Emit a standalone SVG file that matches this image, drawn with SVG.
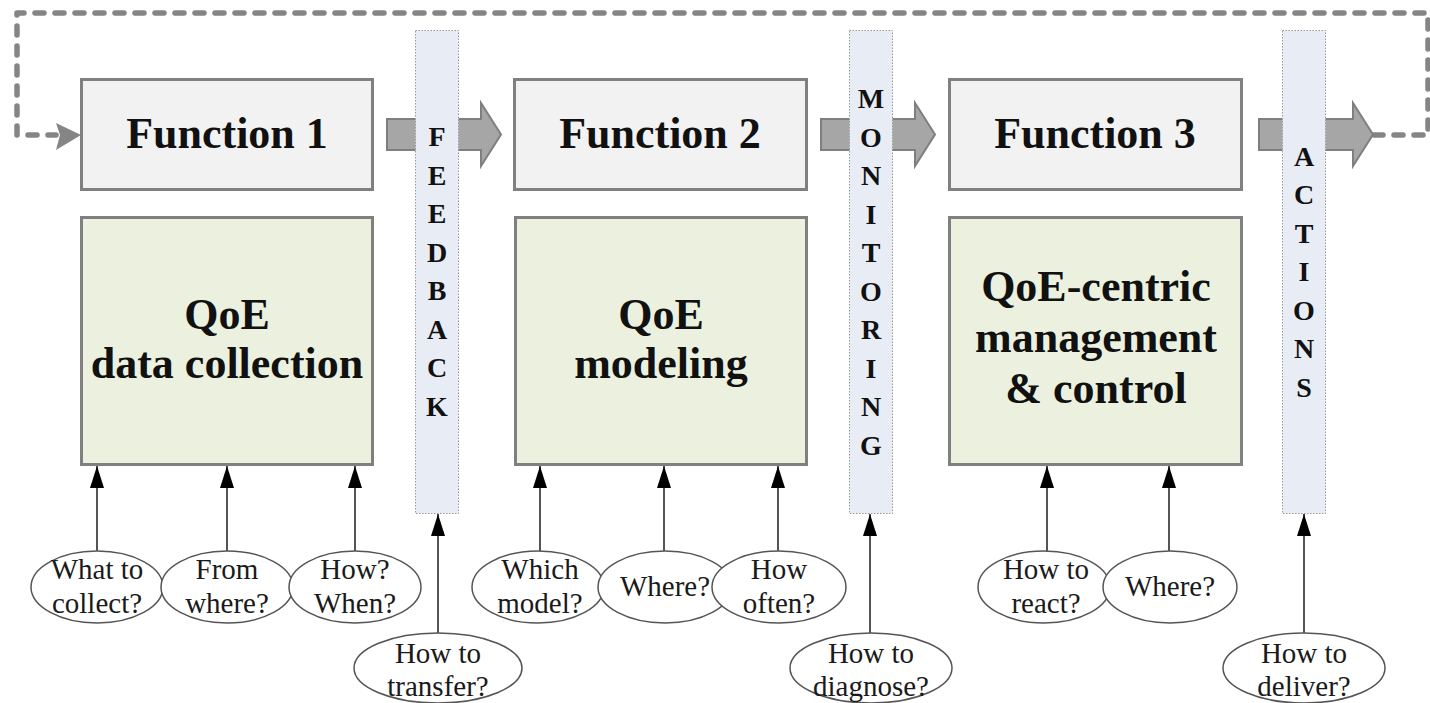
<svg xmlns="http://www.w3.org/2000/svg" width="1430" height="703" viewBox="0 0 1430 703">
  <style>
    .func { fill: #f2f2f2; stroke: #808080; stroke-width: 3; }
    .task { fill: #ebf1de; stroke: #808080; stroke-width: 3; }
    .bar { fill: #e8edf5; stroke: #9a9a9a; stroke-width: 1; stroke-dasharray: 1.5 1.5; }
    .flow { fill: #a6a6a6; stroke: #7f7f7f; stroke-width: 2; stroke-linejoin: miter; }
    .loop { fill: none; stroke: #858585; stroke-width: 5.5; stroke-dasharray: 9 11; stroke-linecap: round; stroke-linejoin: round; }
    .q { fill: #ffffff; stroke: #555555; stroke-width: 1.5; }
    .link { stroke: #555555; stroke-width: 2; fill: none; marker-end: url(#tri); }
    .title { font-family: "Liberation Serif", "Times New Roman", serif; font-weight: bold; font-size: 44px; fill: #111111; text-anchor: middle; }
    .vert { font-family: "Liberation Serif", "Times New Roman", serif; font-weight: bold; font-size: 28px; fill: #111111; text-anchor: middle; }
    .qt { font-family: "Liberation Serif", "Times New Roman", serif; font-size: 29px; fill: #1a1a1a; text-anchor: middle; }
  </style>
  <defs>
    <marker id="tri" viewBox="0 0 22 14" refX="22" refY="7" markerWidth="22" markerHeight="14" markerUnits="userSpaceOnUse" orient="auto">
      <path d="M0,0 L22,7 L0,14 Z" fill="#000000"/>
    </marker>
  </defs>

  <!-- connectors: dashed loop, flow arrows and question links -->
  <g id="connectors">
    <path class="loop" d="M1374,135 H1428 V13 H17 V135 H56"/>
    <path d="M56,123 L81,135 L56,150 L60,135 Z" fill="#858585"/>

    <path class="flow" d="M387,119 H481 V103 L501,134.5 L481,166 V150 H387 Z"/>
    <path class="flow" d="M821,119 H915 V103 L935,134.5 L915,166 V150 H821 Z"/>
    <path class="flow" d="M1259,119 H1353 V103 L1373,134.5 L1353,166 V150 H1259 Z"/>

    <line class="link" x1="97" y1="551" x2="97" y2="466"/>
    <line class="link" x1="227" y1="551" x2="227" y2="466"/>
    <line class="link" x1="355" y1="551" x2="355" y2="466"/>
    <line class="link" x1="540" y1="551" x2="540" y2="466"/>
    <line class="link" x1="664" y1="551" x2="664" y2="466"/>
    <line class="link" x1="778" y1="551" x2="778" y2="466"/>
    <line class="link" x1="1047" y1="551" x2="1047" y2="466"/>
    <line class="link" x1="1169" y1="551" x2="1169" y2="466"/>
    <line class="link" x1="438" y1="634" x2="438" y2="514"/>
    <line class="link" x1="870" y1="634" x2="870" y2="514"/>
    <line class="link" x1="1304" y1="634" x2="1304" y2="514"/>
  </g>

  <!-- function headers -->
  <g id="function1">
    <rect class="func" x="81.5" y="79.5" width="291" height="110"/>
    <text class="title" x="227" y="148">Function 1</text>
  </g>
  <g id="function2">
    <rect class="func" x="514.5" y="79.5" width="292" height="110"/>
    <text class="title" x="660" y="148">Function 2</text>
  </g>
  <g id="function3">
    <rect class="func" x="949.5" y="79.5" width="292" height="110"/>
    <text class="title" x="1095" y="148">Function 3</text>
  </g>

  <!-- function bodies -->
  <g id="collection">
    <rect class="task" x="81.5" y="217.5" width="291" height="247"/>
    <text class="title" x="227" y="329">QoE</text>
    <text class="title" x="227" y="378">data collection</text>
  </g>
  <g id="modeling">
    <rect class="task" x="515.5" y="217.5" width="291" height="247"/>
    <text class="title" x="661" y="329">QoE</text>
    <text class="title" x="661" y="378">modeling</text>
  </g>
  <g id="management">
    <rect class="task" x="949.5" y="217.5" width="292" height="247"/>
    <text class="title" x="1096" y="301">QoE-centric</text>
    <text class="title" x="1096" y="352">management</text>
    <text class="title" x="1096" y="403">&amp; control</text>
  </g>

  <!-- vertical transition bars -->
  <g id="feedback">
    <rect class="bar" x="415.5" y="30.5" width="43" height="483"/>
    <text class="vert" x="437" y="146">F</text>
    <text class="vert" x="437" y="185">E</text>
    <text class="vert" x="437" y="223">E</text>
    <text class="vert" x="437" y="262">D</text>
    <text class="vert" x="437" y="300">B</text>
    <text class="vert" x="437" y="339">A</text>
    <text class="vert" x="437" y="377">C</text>
    <text class="vert" x="437" y="416">K</text>
  </g>
  <g id="monitoring">
    <rect class="bar" x="849.5" y="30.5" width="43" height="483"/>
    <text class="vert" x="871" y="108">M</text>
    <text class="vert" x="871" y="147">O</text>
    <text class="vert" x="871" y="185">N</text>
    <text class="vert" x="871" y="224">I</text>
    <text class="vert" x="871" y="262">T</text>
    <text class="vert" x="871" y="301">O</text>
    <text class="vert" x="871" y="339">R</text>
    <text class="vert" x="871" y="378">I</text>
    <text class="vert" x="871" y="416">N</text>
    <text class="vert" x="871" y="455">G</text>
  </g>
  <g id="actions">
    <rect class="bar" x="1282.5" y="30.5" width="43" height="483"/>
    <text class="vert" x="1304" y="166">A</text>
    <text class="vert" x="1304" y="204">C</text>
    <text class="vert" x="1304" y="243">T</text>
    <text class="vert" x="1304" y="281">I</text>
    <text class="vert" x="1304" y="320">O</text>
    <text class="vert" x="1304" y="358">N</text>
    <text class="vert" x="1304" y="397">S</text>
  </g>

  <!-- questions -->
  <g id="q-what">
    <ellipse class="q" cx="97" cy="587" rx="66" ry="36"/>
    <text class="qt" x="97" y="579">What to</text>
    <text class="qt" x="97" y="613">collect?</text>
  </g>
  <g id="q-fromwhere">
    <ellipse class="q" cx="227" cy="587" rx="66" ry="36"/>
    <text class="qt" x="227" y="579">From</text>
    <text class="qt" x="227" y="613">where?</text>
  </g>
  <g id="q-howwhen">
    <ellipse class="q" cx="355" cy="587" rx="66" ry="36"/>
    <text class="qt" x="355" y="579">How?</text>
    <text class="qt" x="355" y="613">When?</text>
  </g>
  <g id="q-transfer">
    <ellipse class="q" cx="438" cy="668" rx="84" ry="35"/>
    <text class="qt" x="438" y="663">How to</text>
    <text class="qt" x="438" y="696">transfer?</text>
  </g>
  <g id="q-model">
    <ellipse class="q" cx="538" cy="587" rx="66" ry="36"/>
    <text class="qt" x="540" y="579">Which</text>
    <text class="qt" x="540" y="613">model?</text>
  </g>
  <g id="q-where2">
    <ellipse class="q" cx="665" cy="587" rx="67" ry="36"/>
    <text class="qt" x="665" y="596">Where?</text>
  </g>
  <g id="q-often">
    <ellipse class="q" cx="779" cy="587" rx="67" ry="36"/>
    <text class="qt" x="779" y="579">How</text>
    <text class="qt" x="779" y="613">often?</text>
  </g>
  <g id="q-diagnose">
    <ellipse class="q" cx="871" cy="668" rx="81" ry="35"/>
    <text class="qt" x="871" y="663">How to</text>
    <text class="qt" x="871" y="696">diagnose?</text>
  </g>
  <g id="q-react">
    <ellipse class="q" cx="1044" cy="587" rx="66" ry="36"/>
    <text class="qt" x="1046" y="579">How to</text>
    <text class="qt" x="1046" y="613">react?</text>
  </g>
  <g id="q-where3">
    <ellipse class="q" cx="1170" cy="587" rx="67" ry="36"/>
    <text class="qt" x="1170" y="596">Where?</text>
  </g>
  <g id="q-deliver">
    <ellipse class="q" cx="1304" cy="668" rx="81" ry="35"/>
    <text class="qt" x="1304" y="663">How to</text>
    <text class="qt" x="1304" y="696">deliver?</text>
  </g>
</svg>
